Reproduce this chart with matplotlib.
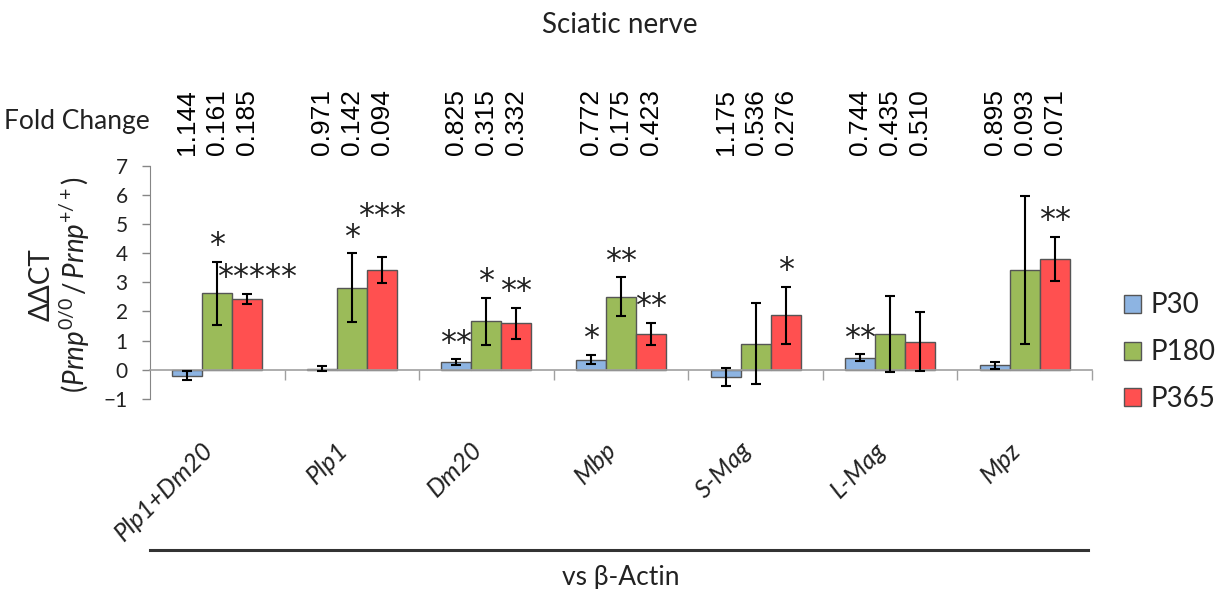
import matplotlib
matplotlib.use("Agg")
import matplotlib.pyplot as plt
import matplotlib.transforms as mtransforms
import numpy as np
from matplotlib.lines import Line2D

# ---------------- data ----------------
genes = ["Plp1+Dm20", "Plp1", "Dm20", "Mbp", "S-Mag", "L-Mag", "Mpz"]
series = ["P30", "P180", "P365"]

p30 = [-0.20, 0.04, 0.26, 0.35, -0.24, 0.41, 0.15]
p180 = [2.63, 2.81, 1.66, 2.51, 0.89, 1.22, 3.42]
p365 = [2.42, 3.42, 1.60, 1.24, 1.87, 0.97, 3.81]

p30_err = [0.16, 0.09, 0.10, 0.16, 0.31, 0.12, 0.12]
p180_err = [1.08, 1.18, 0.81, 0.67, 1.39, 1.31, 2.55]
p365_err = [0.18, 0.44, 0.53, 0.38, 0.97, 1.00, 0.75]

fold_p30 = ["1.144", "0.971", "0.825", "0.772", "1.175", "0.744", "0.895"]
fold_p180 = ["0.161", "0.142", "0.315", "0.175", "0.536", "0.435", "0.093"]
fold_p365 = ["0.185", "0.094", "0.332", "0.423", "0.276", "0.510", "0.071"]

sig_p30 = ["", "", "**", "*", "", "**", ""]
sig_p180 = ["*", "*", "*", "**", "", "", ""]
sig_p365 = ["*****", "***", "**", "**", "*", "", "**"]

colors = ["#8DB4E2", "#9BBB59", "#FF5050"]

# ---------------- style ----------------
plt.rcParams['font.family'] = ['Lato', 'DejaVu Sans']
plt.rcParams['mathtext.fontset'] = 'custom'
plt.rcParams['mathtext.rm'] = 'Lato'
plt.rcParams['mathtext.it'] = 'Lato:italic'

W, H = 1226, 589
fig = plt.figure(figsize=(W / 100, H / 100), dpi=100)
ax = fig.add_axes([150 / W, 1 - 399 / H, 942 / W, (399 - 165.6) / H])

x = np.arange(len(genes))
bw = 0.223
vals = [p30, p180, p365]
errs = [p30_err, p180_err, p365_err]
folds = [fold_p30, fold_p180, fold_p365]
sigs = [sig_p30, sig_p180, sig_p365]

for i in range(3):
    xs = x + (i - 1) * bw
    ax.bar(xs, vals[i], width=bw, color=colors[i], edgecolor="#555555",
           linewidth=1.0, label=series[i], zorder=2)
    ax.errorbar(xs, vals[i], yerr=errs[i], fmt="none", ecolor="black",
                elinewidth=1.5, capsize=3.5, capthick=1.5, zorder=3)

# significance stars
for i in range(3):
    for j in range(len(genes)):
        s = sigs[i][j]
        if not s:
            continue
        top = vals[i][j] + errs[i][j]
        lift = 0.55
        dx = 0.0
        if s == "***" and j == 1:
            lift = 1.38
        if s == "*****":
            dx = 0.07
        ax.text(x[j] + (i - 1) * bw + dx, top + lift, s,
                ha="center", va="center", fontsize=23, family="DejaVu Sans",
                color="#222222", zorder=4)

# fold change numbers
for i in range(3):
    for j in range(len(genes)):
        ax.text(x[j] + (i - 1) * bw, 1.045, folds[i][j], rotation=90,
                transform=ax.get_xaxis_transform(), ha="center", va="bottom",
                fontsize=19, family="Liberation Sans", color="black")

ax.text(-0.5, 1.045 + 0.145, "Fold Change", transform=ax.get_xaxis_transform(),
        ha="right", va="center", fontsize=19, color="#222222")

# axes
ax.set_xlim(-0.5, 6.5)
ax.set_ylim(-1, 7)
ax.set_yticks(range(-1, 8))
ax.tick_params(axis="y", labelsize=15, length=6, width=1, color="#868686",
               pad=10, labelcolor="#222222")
for sp in ["top", "right"]:
    ax.spines[sp].set_visible(False)
ax.spines["left"].set_color("#868686")
ax.spines["bottom"].set_position(("data", 0))
ax.spines["bottom"].set_color("#A0A0A0")
ax.spines["bottom"].set_linewidth(1.2)
ax.set_xticks(x)
ax.set_xticklabels(genes, rotation=45, ha="right", va="center",
                   rotation_mode="anchor", fontsize=18, style="italic",
                   color="#222222")
ax.tick_params(axis="x", which="major", length=0, pad=55)
shift = mtransforms.ScaledTranslation(-8 / 100, 0, fig.dpi_scale_trans)
for lbl in ax.get_xticklabels():
    lbl.set_transform(lbl.get_transform() + shift)
ax.set_xticks(np.arange(0.5, 7.0, 1.0), minor=True)
ax.tick_params(axis="x", which="minor", length=7, width=1, color="#A0A0A0")

ax.set_ylabel("ΔΔCT\n" + r"$(\mathit{Prnp}^{0/0}\,/\,\mathit{Prnp}^{+/+})$",
              fontsize=20, linespacing=1.1, color="#222222")
ax.yaxis.set_label_coords(-0.062, 0.49)

# legend
leg = ax.legend(loc="center left", bbox_to_anchor=((1124 - 150) / 942, 0.20),
                frameon=False, fontsize=20, handlelength=0.62, handleheight=0.62,
                handletextpad=0.35, labelspacing=0.75, borderaxespad=0.0,
                borderpad=0.0)
for t in leg.get_texts():
    t.set_color("#222222")

# title & bottom annotation
fig.text(620 / W, 1 - 25 / H, "Sciatic nerve", ha="center", va="center",
         fontsize=20, color="#222222")
fig.add_artist(Line2D([150 / W, 1088 / W], [1 - 550 / H, 1 - 550 / H],
                      color="#333333", linewidth=2.2))
fig.text(621 / W, 1 - 578 / H, "vs β-Actin", ha="center", va="center",
         fontsize=19, color="#222222")

fig.savefig("out.png", dpi=100)
